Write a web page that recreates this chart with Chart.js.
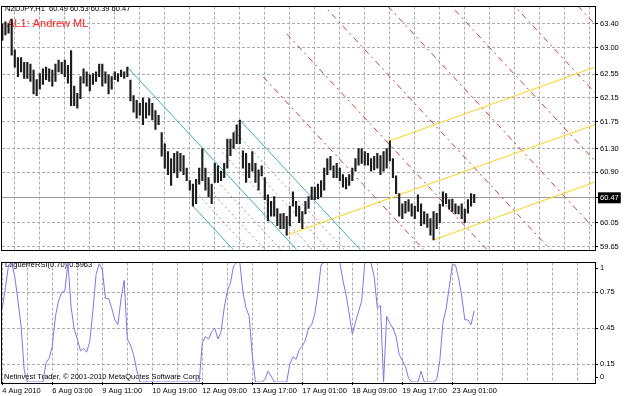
<!DOCTYPE html>
<html>
<head>
<meta charset="utf-8">
<script src="https://cdn.jsdelivr.net/npm/chart.js"></script>
<style>
  html, body { margin: 0; padding: 0; background: #fff; }
  #wrap { position: relative; width: 625px; height: 396px; overflow: hidden; }
  #priceBox { position: absolute; left: 0; top: 0; width: 625px; height: 256px; }
  #rsiBox { position: absolute; left: 0; top: 256px; width: 625px; height: 140px; }
</style>
</head>
<body>
<div id="wrap">
  <div id="priceBox"><canvas id="priceChart"></canvas></div>
  <div id="rsiBox"><canvas id="rsiChart"></canvas></div>
</div>
<script>
const symbolTitle = 'NZDJPY,H1  60.49 60.53 60.39 60.47';
const forkName = 'AL1: Andrew ML';
const rsiTitle = 'LaguerreRSI(0.70) 0.5963';
const copyright = 'Netinvest Trader, \u00a9 2001-2010 MetaQuotes Software Corp.';

// H1 bars, high / low
const highs = [
  63.40, 63.43, 63.40, 63.48, 62.96, 62.83, 62.83, 62.75, 62.75, 62.72,
  62.62, 62.46, 62.56, 62.64, 62.67, 62.64, 62.62, 62.72, 62.79, 62.75,
  62.79, 62.70, 62.95, 62.35, 62.23, 62.51, 62.64, 62.59, 62.54, 62.56,
  62.59, 62.72, 62.72, 62.59, 62.54, 62.51, 62.59, 62.56, 62.62, 62.59,
  62.67, 62.45, 62.19, 62.11, 62.06, 62.15, 62.07, 62.14, 62.06, 61.94,
  61.86, 61.57, 61.38, 61.25, 61.13, 61.22, 61.25, 61.22, 61.18, 60.97,
  60.76, 60.70, 60.78, 60.97, 61.30, 60.97, 60.81, 60.70, 61.05, 61.01,
  60.92, 61.05, 61.46, 61.46, 61.57, 61.70, 61.78, 61.26, 61.22, 61.05,
  61.25, 61.05, 60.94, 61.01, 60.81, 60.52, 60.41, 60.49, 60.29, 60.20,
  60.21, 60.16, 60.33, 60.57, 60.41, 60.33, 60.24, 60.41, 60.49, 60.65,
  60.65, 60.70, 60.76, 60.97, 61.13, 61.17, 61.01, 61.05, 60.97, 60.86,
  60.81, 60.86, 60.97, 61.13, 61.30, 61.30, 61.25, 61.22, 61.13, 61.17,
  61.22, 61.18, 61.25, 61.30, 61.43, 61.13, 60.84, 60.54, 60.37, 60.41,
  60.44, 60.37, 60.33, 60.52, 60.37, 60.24, 60.20, 60.12, 60.24, 60.21,
  60.36, 60.57, 60.54, 60.44, 60.45, 60.37, 60.33, 60.37, 60.28, 60.44,
  60.54, 60.53
];
const lows = [
  63.12, 63.21, 63.24, 62.87, 62.67, 62.51, 62.59, 62.48, 62.48, 62.43,
  62.22, 62.19, 62.30, 62.38, 62.46, 62.43, 62.35, 62.43, 62.59, 62.56,
  62.51, 62.40, 62.02, 62.02, 61.98, 62.14, 62.40, 62.35, 62.27, 62.38,
  62.43, 62.51, 62.35, 62.40, 62.22, 62.30, 62.46, 62.43, 62.51, 62.48,
  62.51, 62.10, 61.91, 61.81, 61.86, 61.70, 61.81, 61.86, 61.78, 61.62,
  61.70, 61.17, 60.97, 60.86, 60.68, 60.89, 60.81, 60.92, 60.86, 60.76,
  60.60, 60.33, 60.37, 60.70, 60.76, 60.60, 60.49, 60.37, 60.73, 60.73,
  60.76, 60.81, 60.97, 61.18, 61.30, 61.38, 61.38, 60.97, 60.73, 60.81,
  60.92, 60.73, 60.60, 60.84, 60.44, 60.08, 60.16, 60.16, 60.00, 59.95,
  59.95, 59.84, 60.00, 60.33, 60.16, 60.05, 59.95, 60.20, 60.29, 60.44,
  60.44, 60.45, 60.49, 60.60, 60.86, 60.94, 60.81, 60.81, 60.76, 60.65,
  60.62, 60.68, 60.76, 60.92, 61.02, 61.05, 61.02, 61.02, 60.92, 60.94,
  60.97, 60.86, 60.92, 60.97, 61.09, 60.81, 60.54, 60.16, 60.12, 60.21,
  60.24, 60.16, 60.12, 60.24, 60.00, 60.03, 59.97, 59.84, 59.76, 59.95,
  60.05, 60.33, 60.37, 60.28, 60.24, 60.20, 60.20, 60.12, 60.05, 60.21,
  60.33, 60.39
];
const rsi = [
  0.62, 0.79, 0.98, 1, 0.88, 0.68, 0.47, 0.10, 0, 0,
  0, 0, 0, 0, 0.16, 0.20, 0.30, 0.55, 0.68, 0.75,
  0.76, 1, 0.63, 0.44, 0.36, 0.26, 0.28, 0.25, 0.34, 0.60,
  0.90, 0.99, 0.94, 0.70, 0.70, 0.62, 0.52, 0.48, 0.70, 0.85,
  0.36, 0.31, 0.23, 0.10, 0, 0, 0, 0, 0, 0,
  0, 0, 0, 0, 0, 0, 0, 0, 0, 0,
  0, 0, 0, 0, 0.33, 0.38, 0.36, 0.42, 0.45, 0.36,
  0.42, 0.62, 0.76, 0.83, 0.97, 1, 1, 0.75, 0.62, 0.55,
  0.22, 0, 0, 0, 0.02, 0.09, 0.05, 0, 0, 0,
  0, 0, 0.15, 0.21, 0.19, 0.27, 0.30, 0.35, 0.45, 0.48,
  0.57, 0.75, 0.98, 1, 1, 1, 1, 1, 1, 0.85,
  0.73, 0.57, 0.40, 0.50, 0.59, 0.68, 1, 1, 1, 0.88,
  0.62, 0.64, 0, 0.55, 0.49, 0.45, 0.38, 0.23, 0.18, 0.13,
  0.03, 0, 0, 0, 0.09, 0, 0, 0, 0, 0.02,
  0.18, 0.50, 0.61, 0.79, 0.98, 0.98, 0.87, 0.72, 0.52, 0.52,
  0.48, 0.5963
];

const dateLabels = ['4 Aug 2010', '6 Aug 03:00', '9 Aug 11:00', '10 Aug 19:00', '12 Aug 09:00',
  '13 Aug 17:00', '17 Aug 01:00', '18 Aug 09:00', '19 Aug 17:00', '23 Aug 01:00'];
const priceTicks = [63.40, 63.00, 62.55, 62.15, 61.75, 61.30, 60.90, 60.47, 60.05, 59.65];
const bidPrice = 60.47;
const rsiTicks = [1, 0.75, 0.45, 0.15, 0];

// pitchfork pivots: [bar index, price]
const cyanPivots = [[40, 62.67], [61, 60.33], [76, 61.78]];
const yellowPivots = [[91, 59.84], [124, 61.43], [138, 59.76]];

const X_MIN = -0.1, X_MAX = 189.66;
const GRID = '#ababab';
const FONT = 'Liberation Sans';
Chart.defaults.font.family = FONT;

const gridIdx = [];
for (let i = 0; i <= 184; i += 8) gridIdx.push(i);

// a line starting at p running right with the fork slope
function ray(p, slope, color, dash, order) {
  return {
    type: 'line',
    data: [{x: p[0], y: p[1]}, {x: X_MAX, y: p[1] + slope * (X_MAX - p[0])}],
    borderColor: color, borderWidth: 1, borderDash: dash,
    pointRadius: 0, order: order
  };
}

function fork(piv) {
  const [a, b, c] = piv;
  const m = [(b[0] + c[0]) / 2, (b[1] + c[1]) / 2];
  const slope = (m[1] - a[1]) / (m[0] - a[0]);
  return {a, b, c, m, slope};
}

const cf = fork(cyanPivots);
const yf = fork(yellowPivots);
const along = (f, k) => [f.m[0] + k * (f.c[0] - f.m[0]), f.m[1] + k * (f.c[1] - f.m[1])];

const lineSets = [];
// cyan fork + inner dotted levels + red warning lines
[-0.75, -0.5, -0.25, 0.25, 0.5, 0.75].forEach(k => lineSets.push(ray(along(cf, k), cf.slope, '#9a9a9a', [2, 3], 4)));
for (let k = 2; k <= 8; k++) lineSets.push(ray(along(cf, k), cf.slope, '#c44040', [6, 4, 2, 4], 4));
[cf.a, cf.b, cf.c].forEach(p => lineSets.push(ray(p, cf.slope, '#3faeb2', [], 3)));
[yf.a, yf.b, yf.c].forEach(p => lineSets.push(ray(p, yf.slope, '#ffd21a', [], 3)));

function frame(id) {
  return {
    id: id,
    afterDraw(chart) {
      const {ctx, chartArea: a} = chart;
      ctx.save();
      ctx.strokeStyle = '#000';
      ctx.lineWidth = 1;
      ctx.strokeRect(Math.round(a.left) - 0.5, Math.round(a.top) - 0.5,
        Math.round(a.right - a.left) + 1, Math.round(a.bottom - a.top) + 1);
      ctx.restore();
    }
  };
}

function texts(id, items) {
  return {
    id: id,
    beforeDatasetsDraw(chart) {
      const ctx = chart.ctx;
      ctx.save();
      ctx.textBaseline = 'middle';
      items.forEach(t => {
        ctx.font = t.size + 'px "' + FONT + '"';
        ctx.fillStyle = t.color;
        ctx.fillText(t.text, t.x, t.y);
      });
      ctx.restore();
    }
  };
}

new Chart(document.getElementById('priceChart'), {
  type: 'bar',
  data: {
    datasets: [
      {
        type: 'bar',
        data: highs.map((h, i) => ({x: i, y: [lows[i], h]})),
        backgroundColor: '#1e1e1e',
        barThickness: 1.5,
        grouped: false,
        order: 1
      }
    ].concat(lineSets)
  },
  options: {
    responsive: true,
    maintainAspectRatio: false,
    animation: false,
    layout: {padding: {left: 2, top: 2, right: 0, bottom: 1}},
    plugins: {legend: {display: false}, tooltip: {enabled: false}},
    scales: {
      x: {
        type: 'linear', min: X_MIN, max: X_MAX, offset: false,
        afterBuildTicks: s => { s.ticks = gridIdx.map(v => ({value: v})); },
        afterFit: s => { s.height = 0; },
        ticks: {display: false},
        grid: {color: GRID, drawTicks: false},
        border: {display: false, dash: [3, 2]}
      },
      y: {
        position: 'right', min: 59.60, max: 63.69,
        afterBuildTicks: s => { s.ticks = priceTicks.map(v => ({value: v})); },
        afterFit: s => { s.width = 30; },
        ticks: {
          font: {size: 7.5}, padding: 2,
          color: c => c.tick.value === bidPrice ? '#fff' : '#000',
          showLabelBackdrop: c => c.tick.value === bidPrice,
          backdropColor: '#000',
          backdropPadding: {x: 2, y: 1},
          callback: v => v.toFixed(2)
        },
        grid: {
          color: c => (c.tick && c.tick.value === bidPrice) ? '#9c9c9c' : GRID,
          tickColor: '#000', tickLength: 3
        },
        border: {display: false, dash: c => (c.tick && c.tick.value === bidPrice) ? [] : [3, 2]}
      }
    }
  },
  plugins: [
    texts('priceTexts', [
      {text: symbolTitle, x: 5, y: 9, size: 7.5, color: '#000'},
      {text: forkName, x: 7, y: 24, size: 11, color: '#ff2020'}
    ]),
    frame('priceFrame')
  ]
});

new Chart(document.getElementById('rsiChart'), {
  type: 'line',
  data: {
    datasets: [{
      data: rsi.map((v, i) => ({x: i, y: v})),
      borderColor: '#8672e8',
      borderWidth: 1,
      pointRadius: 0,
      tension: 0
    }]
  },
  options: {
    responsive: true,
    maintainAspectRatio: false,
    animation: false,
    layout: {padding: {left: 2, top: 1, right: 0, bottom: 0}},
    plugins: {legend: {display: false}, tooltip: {enabled: false}},
    scales: {
      x: {
        type: 'linear', min: X_MIN, max: X_MAX, offset: false,
        afterBuildTicks: s => { s.ticks = gridIdx.map(v => ({value: v})); },
        afterFit: s => { s.height = 14; },
        ticks: {
          autoSkip: false, maxRotation: 0, align: 'start', padding: 1,
          font: {size: 7.5}, color: '#000',
          callback: v => (v % 16 === 0 && dateLabels[v / 16]) ? dateLabels[v / 16] : ''
        },
        grid: {
          color: GRID, tickLength: 3,
          tickColor: c => (c.tick && c.tick.value % 16 === 0 && dateLabels[c.tick.value / 16]) ? '#000' : 'rgba(0,0,0,0)'
        },
        border: {display: false, dash: [3, 2]}
      },
      y: {
        position: 'right', min: 0, max: 1,
        afterBuildTicks: s => {
          // keep the 1 and 0 labels inside the panel
          s.ticks = rsiTicks.map(v => ({value: v === 1 ? 0.952 : (v === 0 ? 0.04 : v)}));
        },
        afterFit: s => { s.width = 30; },
        ticks: {font: {size: 7.5}, color: '#000', padding: 2, callback: (v, i) => String(rsiTicks[i])},
        grid: {
          color: c => (c.index === 0 || c.index === rsiTicks.length - 1) ? 'rgba(0,0,0,0)' : GRID,
          tickColor: '#000', tickLength: 3
        },
        border: {display: false, dash: [3, 2]}
      }
    }
  },
  plugins: [
    texts('rsiTexts', [
      {text: rsiTitle, x: 5, y: 9, size: 7.5, color: '#000'},
      {text: copyright, x: 4, y: 121, size: 7.5, color: '#000'}
    ]),
    frame('rsiFrame')
  ]
});
</script>
</body>
</html>
